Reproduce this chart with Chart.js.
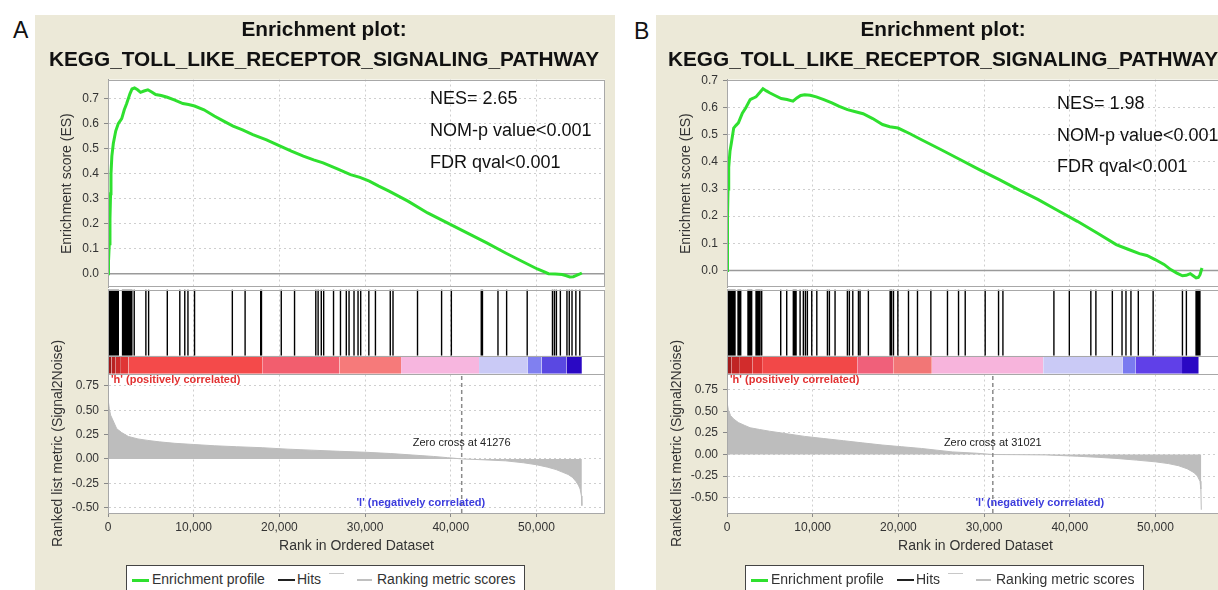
<!DOCTYPE html>
<html>
<head>
<meta charset="utf-8">
<script src="https://cdn.jsdelivr.net/npm/chart.js@4.4.1/dist/chart.umd.min.js"></script>
<style>
html,body{margin:0;padding:0;width:1218px;height:590px;overflow:hidden;background:#fff;font-family:"Liberation Sans",Arial,Helvetica,sans-serif;}
#wrap{position:relative;width:1218px;height:590px;overflow:hidden;}
.bg{position:absolute;top:15px;height:575px;background:#ECE9D8;}
.plabel{position:absolute;font-size:23px;line-height:23px;color:#111;}
canvas{position:absolute;top:15px;}
.legend{position:absolute;top:565px;width:399px;height:32px;background:#fff;border:1px solid #444;box-sizing:border-box;font-size:14px;color:#333;}
.legend span{position:absolute;top:5px;line-height:16px;white-space:nowrap;}
.legend i{position:absolute;display:block;}
</style>
</head>
<body>
<div id="wrap">
  <div class="bg" style="left:35px;width:580px;"></div>
  <div class="bg" style="left:656px;width:562px;"></div>
  <div class="plabel" style="left:13px;top:19px;">A</div>
  <div class="plabel" style="left:634px;top:20px;">B</div>
  <canvas id="cA" width="562" height="575" style="left:43px;"></canvas>
  <canvas id="cB" width="562" height="575" style="left:662px;"></canvas>
  <div class="legend" style="left:126px;">
    <i style="left:5px;top:13px;width:17px;height:3px;background:#2fe02f;"></i><span style="left:25px;">Enrichment profile</span>
    <i style="left:151px;top:13px;width:17px;height:2px;background:#222;"></i><span style="left:170px;">Hits</span>
    <i style="left:202px;top:7px;width:15px;height:1px;background:#c8c8c8;"></i>
    <i style="left:230px;top:13px;width:15px;height:2px;background:#c0c0c0;"></i><span style="left:250px;">Ranking metric scores</span>
  </div>
  <div class="legend" style="left:745px;">
    <i style="left:5px;top:13px;width:17px;height:3px;background:#2fe02f;"></i><span style="left:25px;">Enrichment profile</span>
    <i style="left:151px;top:13px;width:17px;height:2px;background:#222;"></i><span style="left:170px;">Hits</span>
    <i style="left:202px;top:7px;width:15px;height:1px;background:#c8c8c8;"></i>
    <i style="left:230px;top:13px;width:15px;height:2px;background:#c0c0c0;"></i><span style="left:250px;">Ranking metric scores</span>
  </div>
</div>
<script>
// ---------------- data ----------------
const pathwayTitle = 'Enrichment plot:';
const pathwayName = 'KEGG_TOLL_LIKE_RECEPTOR_SIGNALING_PATHWAY';
const xTicks = [0, 10000, 20000, 30000, 40000, 50000];
const esTicks = [0, 0.1, 0.2, 0.3, 0.4, 0.5, 0.6, 0.7];
const rankTicks = [-0.5, -0.25, 0, 0.25, 0.5, 0.75];

// Enrichment profile [rank, ES]
const esA = [[0,0],[60,0.05],[150,0.12],[230,0.22],[300,0.32],[350,0.40],[450,0.47],[620,0.52],[900,0.57],[1200,0.60],[1600,0.62],[1900,0.655],[2180,0.68],[2570,0.72],[2800,0.738],[3100,0.742],[3450,0.735],[3800,0.725],[4200,0.73],[4650,0.735],[5100,0.726],[5560,0.716],[6200,0.712],[6920,0.705],[7800,0.694],[8740,0.68],[9400,0.676],[10100,0.67],[11200,0.655],[12400,0.63],[13500,0.61],[14600,0.59],[15700,0.575],[16900,0.556],[18500,0.535],[20100,0.51],[21400,0.49],[22800,0.47],[24000,0.455],[25100,0.443],[26700,0.42],[28300,0.396],[29400,0.385],[30500,0.37],[31600,0.35],[32800,0.33],[35000,0.29],[37300,0.243],[39600,0.203],[41900,0.163],[44200,0.123],[46400,0.083],[48300,0.05],[50100,0.019],[51000,0.006],[51400,0.0],[52200,-0.001],[53000,-0.003],[53500,-0.008],[53900,-0.013],[54300,-0.012],[54600,-0.008],[55000,-0.002],[55300,0.003]];
const esB = [[0,0],[60,0.2],[120,0.3],[200,0.38],[350,0.44],[510,0.47],[780,0.525],[1050,0.535],[1330,0.544],[1790,0.58],[2200,0.60],[2700,0.63],[3050,0.635],[3380,0.64],[3800,0.655],[4200,0.67],[4600,0.662],[4970,0.655],[5600,0.645],[6330,0.634],[7000,0.63],[7700,0.624],[8150,0.636],[8600,0.645],[9070,0.648],[9700,0.646],[10420,0.64],[11300,0.63],[12240,0.618],[13100,0.605],[14060,0.593],[15000,0.585],[15880,0.578],[17000,0.56],[18150,0.538],[19000,0.53],[19960,0.525],[21300,0.505],[22700,0.482],[25000,0.445],[27240,0.408],[29500,0.371],[31780,0.335],[34000,0.298],[36330,0.261],[38600,0.221],[40890,0.181],[43200,0.138],[45420,0.095],[46800,0.078],[48130,0.062],[49000,0.055],[49960,0.04],[51000,0.022],[51780,0.003],[52500,-0.01],[53150,-0.02],[53600,-0.018],[54060,-0.012],[54400,-0.02],[54750,-0.028],[55000,-0.026],[55200,-0.016],[55430,0.009]];

// Hit positions (rank)
const hitsA = [0,110,220,330,440,550,660,770,880,990,1100,1200,1700,1820,1940,2060,2180,2300,2420,2540,2660,2780,3060,4420,4740,6920,8380,8960,9330,10100,14510,16000,17820,17910,20220,21770,24250,24520,24890,25170,26320,27130,27810,28130,28710,29180,29490,30440,31210,32940,33260,36120,38930,40070,43560,43700,45510,46520,48920,51870,52100,52330,52790,53560,53830,54150,54600,55060];
const hitsB = [0,120,240,360,480,600,720,840,930,1290,1450,1600,2450,2600,2750,2880,3390,3550,3700,3850,4050,6270,6970,7740,7900,8060,8530,8910,9150,9380,9890,10480,11720,11950,12610,14050,14280,14680,15340,15530,16500,19040,19200,19430,19940,21180,22230,23790,25730,27020,27800,30130,31690,32200,38150,39950,42460,43050,44970,46100,46560,47140,48000,49730,53150,53610,54740,54900,55050,55190];

// Ranked list metric [rank, value]
const rankA = [[0,0.62],[150,0.52],[300,0.45],[560,0.40],[1020,0.31],[1600,0.27],[2380,0.23],[3500,0.205],[4650,0.19],[6000,0.175],[7800,0.16],[10000,0.148],[12400,0.135],[15000,0.125],[18000,0.115],[21000,0.10],[23700,0.09],[27000,0.078],[30100,0.068],[33000,0.055],[35500,0.04],[38000,0.025],[39600,0.013],[41276,0],[43200,-0.007],[46400,-0.02],[48500,-0.04],[50000,-0.06],[51300,-0.085],[52300,-0.11],[53000,-0.135],[53700,-0.16],[54200,-0.19],[54600,-0.23],[54900,-0.27],[55100,-0.31],[55250,-0.38],[55300,-0.48]];
const rankB = [[0,0.61],[150,0.52],[420,0.45],[800,0.41],[1330,0.37],[2000,0.34],[2700,0.31],[3800,0.29],[4960,0.27],[7000,0.24],[9070,0.21],[11300,0.185],[13600,0.16],[15800,0.135],[18100,0.11],[20400,0.09],[22700,0.07],[24500,0.05],[26300,0.03],[29100,0.015],[31021,0],[34000,-0.002],[37200,-0.005],[40900,-0.02],[43200,-0.032],[45400,-0.045],[47800,-0.065],[50000,-0.085],[51500,-0.105],[52700,-0.13],[53700,-0.165],[54500,-0.21],[54900,-0.25],[55200,-0.31],[55300,-0.4],[55350,-0.64]];

// Heat-map bar: segment edges (rank) and colours
const barEdgesA = [0,400,900,1500,2400,18000,27000,34200,43300,49000,50600,53500,55300];
const barColorsA = ['#9c1a1a','#b82222','#cc2a2a','#e03636','#f44a4a','#f25e6e','#f67a7a','#f7b6df','#cacaf6','#8080f0','#5a48e2','#2a08c4'];
const barEdgesB = [0,500,1500,3000,4100,15200,19400,23900,36900,46200,47700,53100,55050];
const barColorsB = ['#a01c1c','#c02424','#d22c2c','#e03434','#f24848','#f0607a','#f27676','#f7b4dc','#cacaf6','#7a7af0','#6040e8','#2a08c4'];

const zeroCrossA = 41276;
const zeroCrossB = 31021;
const statsA = ['NES= 2.65', 'NOM-p value<0.001', 'FDR qval<0.001'];
const statsB = ['NES= 1.98', 'NOM-p value<0.001', 'FDR qval<0.001'];
const posLabel = "'h' (positively correlated)";
const negLabel = "'l' (negatively correlated)";

// ---------------- chart ----------------
const FONT = '"Liberation Sans", Arial, Helvetica, sans-serif';
const pt = p => ({x: p[0], y: p[1]});

function buildPanel(id, d) {
  const datasets = [];
  datasets.push({label:'Enrichment profile', data:d.es.map(pt), yAxisID:'yES', borderColor:'#2fe02f', borderWidth:3, fill:false});
  datasets.push({label:'Hits', data:d.hits.flatMap(r => [{x:r,y:0},{x:r,y:1},{x:r,y:null}]), yAxisID:'yHits', borderColor:'#000', borderWidth:1.4, spanGaps:false, fill:false});
  datasets.push({label:'Zero cross', data:[{x:d.zero,y:d.rankMin},{x:d.zero,y:d.rankMax}], yAxisID:'yRank', borderColor:'#8a8a8a', borderWidth:1.5, borderDash:[4,3], fill:false});
  datasets.push({label:'Ranking metric scores', data:d.rank.map(pt), yAxisID:'yRank', borderColor:'#bdbdbd', borderWidth:1, backgroundColor:'#bdbdbd', fill:'origin'});
  for (let i = 0; i < d.edges.length - 1; i++) {
    datasets.push({label:'bar'+i, data:[{x:d.edges[i],y:1},{x:d.edges[i+1],y:1}], yAxisID:'yBar', borderColor:'rgba(0,0,0,0)', borderWidth:0, backgroundColor:d.colors[i], fill:{value:0}});
  }

  const decor = {
    id: 'decor',
    beforeDraw(chart) {
      const {ctx, chartArea:a} = chart;
      ctx.save(); ctx.fillStyle = '#fff';
      ctx.fillRect(a.left, a.top, a.right - a.left, a.bottom - a.top);
      ctx.restore();
    },
    beforeDatasetsDraw(chart) {
      const {ctx, chartArea:a, scales} = chart;
      const y0 = scales.yES.getPixelForValue(0);
      ctx.save(); ctx.strokeStyle = '#9a9a9a'; ctx.lineWidth = 1.5;
      ctx.beginPath(); ctx.moveTo(a.left, y0); ctx.lineTo(a.right, y0); ctx.stroke();
      ctx.restore();
    },
    afterDatasetsDraw(chart) {
      const {ctx, chartArea:a, scales} = chart;
      const es = scales.yES, hs = scales.yHits, bs = scales.yBar, rs = scales.yRank, xs = scales.x;
      ctx.save();
      ctx.strokeStyle = '#a8a8a8'; ctx.lineWidth = 1;
      const box = (t, b) => ctx.strokeRect(a.left + 0.5, Math.round(t) + 0.5, a.right - a.left - 1, Math.round(b) - Math.round(t));
      box(es.top, es.bottom - 2);
      box(hs.getPixelForValue(1), hs.bottom);
      box(bs.top, bs.bottom);
      box(rs.top, rs.bottom);
      ctx.fillStyle = '#111'; ctx.textBaseline = 'middle'; ctx.textAlign = 'left';
      ctx.font = '18px ' + FONT;
      d.stats.forEach((s, i) => ctx.fillText(s, a.left + d.statDx, a.top + d.statDy[i]));
      ctx.font = 'bold 11px ' + FONT;
      ctx.fillStyle = '#e23232';
      ctx.fillText(posLabel, a.left + 3, rs.top + 6);
      ctx.fillStyle = '#3b3bdc';
      ctx.fillText(negLabel, a.left + 0.5 * (a.right - a.left), rs.bottom - 10);
      ctx.font = '11px ' + FONT; ctx.fillStyle = '#222'; ctx.textAlign = 'center';
      ctx.fillText('Zero cross at ' + d.zero, xs.getPixelForValue(d.zero), rs.top + 69);
      ctx.restore();
    }
  };

  const tickFont = {size:12, family:FONT};
  const hidden = (w, sw, min, max) => ({type:'linear', position:'left', stack:'p', stackWeight:sw, weight:w, min, max,
    afterFit: s => { s.width = 65; },
    ticks:{display:false}, grid:{display:false, drawTicks:false}, border:{display:false}, title:{display:false}});

  new Chart(document.getElementById(id), {
    type: 'line',
    data: {datasets},
    options: {
      responsive:false, animation:false, events:[],
      layout:{padding:{left:0, right:0, top:0, bottom:35.6}},
      elements:{point:{radius:0, hoverRadius:0}, line:{tension:0}},
      plugins:{
        legend:{display:false}, tooltip:{enabled:false},
        title:{display:true, text:pathwayTitle, color:'#111', font:{size:20.8, weight:'bold', family:FONT}, padding:{top:2.4, bottom:5}},
        subtitle:{display:true, text:pathwayName, color:'#111', font:{size:20.8, weight:'bold', family:FONT}, padding:{top:0, bottom:7.2}}
      },
      scales: {
        x: {type:'linear', position:'bottom', min:0, max:58000,
          afterBuildTicks: s => { s.ticks = xTicks.map(v => ({value:v})); },
          afterFit: s => { s.height = 41.4; },
          ticks:{callback: v => Number(v).toLocaleString('en-US'), font:tickFont, color:'#333', padding:3, maxRotation:0, autoSkip:false},
          grid:{color:'#cfcfcf', lineWidth:1, tickLength:4, tickColor:'#888'},
          border:{color:'#9a9a9a', dash:[2,3]},
          title:{display:true, text:'Rank in Ordered Dataset', color:'#333', font:{size:14, family:FONT}, padding:{top:2, bottom:0}}
        },
        yES: {type:'linear', position:'left', stack:'p', stackWeight:208, weight:4, min:d.esMin, max:d.esMax,
          afterBuildTicks: s => { s.ticks = esTicks.map(v => ({value:v})); },
          afterFit: s => { s.width = 65; },
          ticks:{callback: v => Number(v).toFixed(1), font:tickFont, color:'#333', padding:5, autoSkip:false},
          grid:{color: c => (c.tick && c.tick.value === 0) ? 'rgba(0,0,0,0)' : '#cfcfcf', tickColor:'#888', tickLength:4},
          border:{color:'#9a9a9a', dash:[2,3]},
          title:{display:true, text:'Enrichment score (ES)', color:'#333', font:{size:14, family:FONT}, padding:{top:15.6, bottom:0}}
        },
        yHits: hidden(3, 68, 0, 1.03),
        yBar: hidden(2, 18, 0, 1),
        yRank: {type:'linear', position:'left', stack:'p', stackWeight:139, weight:1, min:d.rankMin, max:d.rankMax,
          afterBuildTicks: s => { s.ticks = rankTicks.map(v => ({value:v})); },
          afterFit: s => { s.width = 65; },
          ticks:{callback: v => Number(v).toFixed(2), font:tickFont, color:'#333', padding:5, autoSkip:false},
          grid:{color:'#cfcfcf', tickColor:'#888', tickLength:4},
          border:{color:'#9a9a9a', dash:[2,3]},
          title:{display:true, text:'Ranked list metric (Signal2Noise)', color:'#333', font:{size:14, family:FONT}, padding:{top:6.6, bottom:0}}
        }
      }
    },
    plugins:[decor]
  });
}

buildPanel('cA', {es:esA, hits:hitsA, rank:rankA, edges:barEdgesA, colors:barColorsA, zero:zeroCrossA,
  esMin:-0.056, esMax:0.776, rankMin:-0.556, rankMax:0.874, stats:statsA, statDx:322, statDy:[20,52,84]});
buildPanel('cB', {es:esB, hits:hitsB, rank:rankB, edges:barEdgesB, colors:barColorsB, zero:zeroCrossB,
  esMin:-0.064, esMax:0.704, rankMin:-0.678, rankMax:0.935, stats:statsB, statDx:330, statDy:[25,57,88]});
</script>
</body>
</html>
